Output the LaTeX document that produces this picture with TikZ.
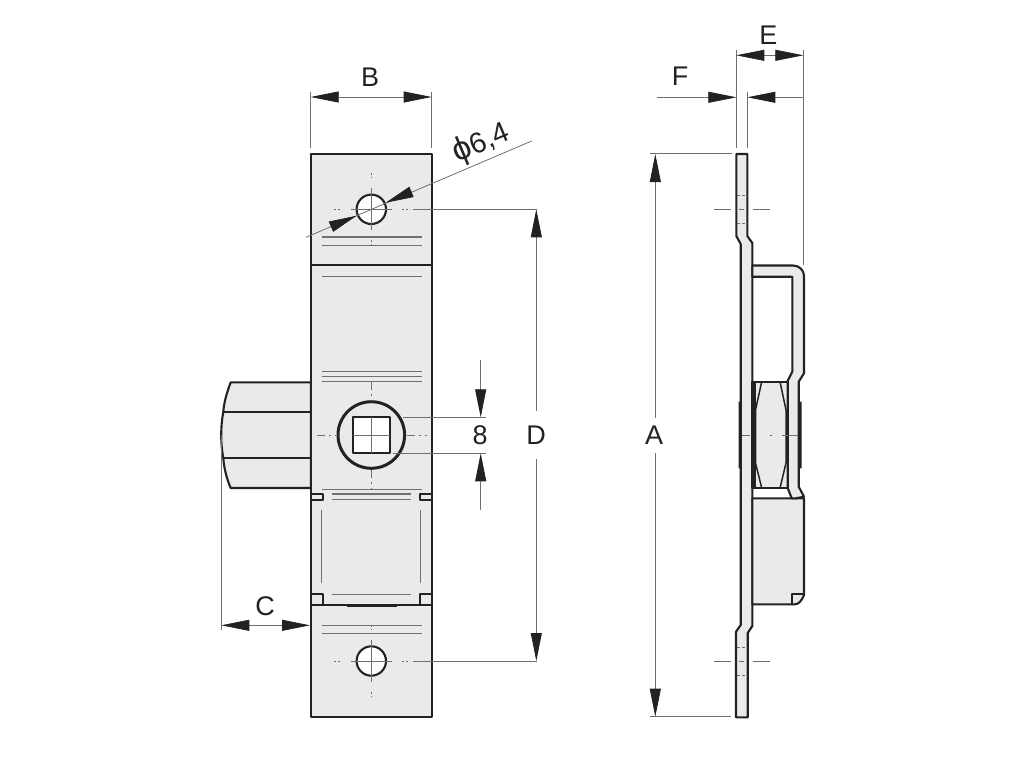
\documentclass[tikz,border=0pt]{standalone}
\usepackage{fontspec}
\setmainfont{Liberation Sans}
\usetikzlibrary{arrows.meta}
\definecolor{partgrey}{HTML}{E9EAEA}
\definecolor{inkdark}{HTML}{222222}
\definecolor{thingrey}{HTML}{707070}
\tikzset{
  outline/.style={draw=inkdark, line width=2.1pt, line join=round},
  part/.style={outline, fill=partgrey},
  thinline/.style={draw=thingrey, line width=0.8pt},
  thickthin/.style={draw=thingrey, line width=1.5pt},
  dimtip/.style={draw=thingrey, line width=0.8pt, -{Triangle[length=28pt,width=11pt,color=inkdark]}},
  letter/.style={font=\fontsize{27}{27}\selectfont, text=inkdark, inner sep=0pt}
}
\begin{document}
\begin{tikzpicture}[x=1pt,y=-1pt]
\useasboundingbox (0,0) rectangle (1024,768);
% front view
\draw[part] (230.7,382.3) .. controls (226,395) and (224,403) .. (223.3,411.7) .. controls (220.5,427) and (220.5,443) .. (223.3,458.3) .. controls (224,467) and (226,477) .. (230.7,488) -- (311,488) -- (311,382.3) -- cycle;
\draw[outline] (223.3,411.7) -- (311,411.7) (223.3,458.3) -- (311,458.3);
\draw[part] (310.7,154) rectangle (431.7,717.3);
\draw[outline] (310.7,265) -- (431.7,265) (310.7,605) -- (431.7,605);
\draw[outline, line width=2.8pt] (346.7,605.5) -- (396.7,605.5);
\draw[outline, line width=1.7pt] (311,493.7) rectangle (323,500) (420,493.7) rectangle (431.7,500);
\draw[outline, line width=1.7pt] (311,594) -- (323,594) -- (323,605) (431.7,594) -- (420,594) -- (420,605);
\foreach \y in {245.3,276.3,371.7,376.5,381.3,489.3,625.3}
  \draw[thinline] (321.7,\y) -- (421.7,\y);
\foreach \y in {237,633.7}
  \draw[thickthin] (321.7,\y) -- (421.7,\y);
\foreach \y in {594}
  \draw[thinline] (332.3,\y) -- (410.7,\y);
\foreach \y in {494,499.7}
  \draw[thickthin, line width=1.1pt] (332.3,\y) -- (410.7,\y);
\draw[thinline] (321.7,510) -- (321.7,583) (420.3,510) -- (420.3,583);
% holes
\foreach \y/\hole in {209.3/top,661/bottom} {
  \draw[outline, fill=white] (371.3,\y) circle [radius=14.7];
  \draw[thinline] (350.7,\y) -- (391.7,\y) (371.3,\y-21) -- (371.3,\y+21);
  \draw[thinline, dash pattern=on 2pt off 2pt] (334,\y) -- (341,\y) (402,\y) -- (410,\y) (371.3,\y-36) -- (371.3,\y-31) (371.3,\y+31) -- (371.3,\y+36);
}
\draw[outline, line width=3pt] (371.3,435) circle [radius=33.3];
\draw[outline, fill=white] (353,417.3) rectangle (390,453.3);
\draw[thinline] (371.3,417.3) -- (371.3,453.3) (353,435.3) -- (390,435.3);
\draw[thinline, dash pattern=on 8pt off 4pt on 2pt off 4pt] (316.7,435) -- (336,435) (407,435) -- (426.7,435) (371.3,381.7) -- (371.3,401) (371.3,470) -- (371.3,490);
% side view
\draw[part] (736.3,154) -- (747.3,154) -- (747.3,236) -- (752.3,243) -- (752.3,626) -- (747.7,633) -- (747.7,717.3) -- (736,717.3) -- (736,631.7) -- (740.7,625) -- (740.7,244) -- (736.3,236) -- cycle;
\draw[part] (752.3,498.3) -- (804,498.3) -- (804,595) .. controls (802,600) and (799,604.3) .. (795,604.3) -- (752.3,604.3) -- cycle;
\draw[outline, line width=1.7pt] (791.7,604.3) -- (791.7,594) -- (804,594);
\draw[part] (752.3,381.7) -- (787.7,381.7) -- (787.7,488) -- (752.3,488) -- cycle;
\draw[outline, line width=1.5pt] (761.7,381.7) -- (755.5,410) -- (755.5,463) -- (761.7,488) (780,381.7) -- (786,410) -- (786,463) -- (780,488);
\fill[inkdark] (752.3,381.7) rectangle (755.5,488);
\draw[part] (752.3,265.5) -- (793,265.5) .. controls (799,265.5) and (804,270) .. (804,276) -- (804,373.3) -- (798.7,381.7) -- (798.7,486.7) -- (804,496.7) -- (796,498.3) -- (791.7,498.3) -- (787.7,488) -- (787.7,380.7) -- (792.3,371.7) -- (792.3,276.7) -- (752.3,276.7) -- cycle;
\fill[inkdark] (738.5,401.7) rectangle (741,468.3) (799,401.7) rectangle (801.7,468.3);
\foreach \y in {209.3,661} {
  \draw[thinline] (714,\y) -- (730.7,\y) (752.7,\y) -- (770,\y) (739,\y) -- (743.5,\y);
  \draw[thinline, dash pattern=on 3pt off 2pt] (737,\y-14) -- (747,\y-14) (737,\y+14.5) -- (747,\y+14.5);
}
\draw[thinline] (741.7,435) -- (750,435) (769.7,435) -- (771.7,435) (781.7,435) -- (798,435);
% dimensions
\coordinate (bleft) at (310.7,97);
\coordinate (bright) at (431.7,97);
\coordinate (bmid) at (371,97);
\draw[thinline] (310.7,92) -- (310.7,148) (431.7,92) -- (431.7,148);
\draw[dimtip] (bmid) -- (bleft);
\draw[dimtip] (bmid) -- (bright);
\node[letter] (labelb) at (370,77) {B};
\coordinate (phifar) at (531.7,141);
\coordinate (phinear) at (306,237.3);
\coordinate (phitipa) at (385.7,202.7);
\coordinate (phitipb) at (356.7,215.7);
\draw[thinline] (phinear) -- (phifar);
\draw[dimtip] (411.7,191.8) -- (phitipa);
\draw[dimtip] (330.7,226.8) -- (phitipb);
\node[letter, rotate=23] (labelphi) at (481,143) {{\fontsize{33}{33}\selectfont ϕ}\fontsize{29}{29}\selectfont 6,4};
\coordinate (cleft) at (221.3,625.3);
\coordinate (cright) at (310,625.3);
\coordinate (cmid) at (265,625.3);
\draw[thinline] (221.3,435) -- (221.3,630);
\draw[dimtip] (cmid) -- (cleft);
\draw[dimtip] (cmid) -- (cright);
\node[letter] (labelc) at (265,605.7) {C};
\coordinate (eighttop) at (480.7,417.3);
\coordinate (eightbot) at (480.7,453.3);
\draw[thinline] (403,417.3) -- (486,417.3) (393,453.3) -- (486,453.3);
\draw[dimtip] (480.7,360) -- (eighttop);
\draw[dimtip] (480.7,510) -- (eightbot);
\node[letter] (labeleight) at (480,435.3) {8};
\coordinate (dtop) at (536.3,209.3);
\coordinate (dbot) at (536.3,661);
\draw[thinline] (413,209.3) -- (537,209.3) (413,661) -- (537,661);
\draw[dimtip] (536.3,410.7) -- (dtop);
\draw[dimtip] (536.3,459.3) -- (dbot);
\node[letter] (labeld) at (536,435) {D};
\coordinate (atop) at (655.3,154);
\coordinate (abot) at (655.3,716.7);
\draw[thinline] (650,153.7) -- (731.7,153.7) (650,716.7) -- (730.7,716.7);
\draw[dimtip] (655.3,418) -- (atop);
\draw[dimtip] (655.3,453) -- (abot);
\node[letter] (labela) at (654,435) {A};
\coordinate (eleft) at (736.3,55.3);
\coordinate (eright) at (803.3,55.3);
\coordinate (emid) at (769.5,55.3);
\draw[thinline] (736.3,50) -- (736.3,148.3) (747.3,91.7) -- (747.3,148.3) (803.3,50) -- (803.3,265);
\draw[dimtip] (emid) -- (eleft);
\draw[dimtip] (emid) -- (eright);
\node[letter] (labele) at (768.3,35) {E};
\coordinate (fleft) at (736.3,97.3);
\coordinate (fright) at (747.3,97.3);
\draw[dimtip] (657.3,97.3) -- (fleft);
\draw[dimtip] (804.3,97.3) -- (fright);
\node[letter] (labelf) at (680,76.7) {F};
\end{tikzpicture}
\end{document}
